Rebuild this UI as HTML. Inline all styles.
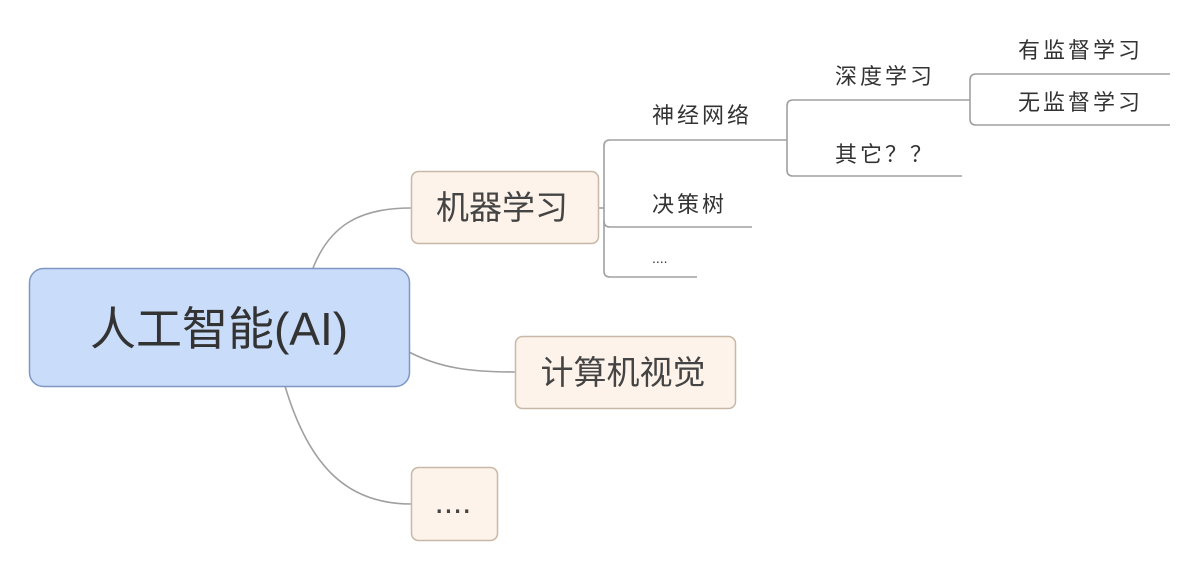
<!DOCTYPE html>
<html><head><meta charset="utf-8"><style>
html,body{margin:0;padding:0;background:#fff;width:1200px;height:570px;overflow:hidden;}
svg text{font-family:"Liberation Sans","Noto Sans CJK SC",sans-serif;fill:#333;}
</style></head><body>
<svg width="1200" height="570" xmlns="http://www.w3.org/2000/svg">
<g fill="none" stroke="#a0a0a0" stroke-width="1.6">
<path d="M313 268 C330 225 360 208 411 208"/>
<path d="M409 352 C440 368 470 372 515 372"/>
<path d="M285 386 C310 470 350 504 411 504"/>
<path d="M598 208 L604 208"/>
<path d="M752 227 L610 227 Q604 227 604 221 L604 146 Q604 140 610 140 L787 140"/>
<path d="M604 221 L604 271 Q604 277 610 277 L697 277"/>
<path d="M970 100 L793 100 Q787 100 787 106 L787 170 Q787 176 793 176 L962 176"/>
<path d="M1170 74 L976 74 Q970 74 970 80 L970 119 Q970 125 976 125 L1170 125"/>
</g>
<rect x="29.5" y="268.5" width="380" height="118" rx="14" fill="#c9dcf9" stroke="#7f97c2" stroke-width="1.5"/>
<text x="219" y="345" font-size="46" text-anchor="middle" fill="#444">人工智能(AI)</text>
<g fill="#fdf3ea" stroke="#c8b8a8" stroke-width="1.5">
<rect x="411.5" y="171.5" width="187" height="72" rx="7"/>
<rect x="515.5" y="336.5" width="220" height="72" rx="7"/>
<rect x="411.5" y="467.5" width="86" height="73" rx="7"/>
</g>
<g font-size="33" text-anchor="middle">
<text x="502" y="219" style="fill:#444">机器学习</text>
<text x="623" y="384" style="fill:#444">计算机视觉</text>
<text x="453" y="513" style="fill:#444">....</text>
</g>
<g font-size="22" letter-spacing="3">
<text x="652" y="123">神经网络</text>
<text x="652" y="212">决策树</text>
<text x="652" y="263" font-size="14" letter-spacing="0">....</text>
<text x="835" y="84">深度学习</text>
<text x="835" y="162">其它？？</text>
<text x="1018" y="58">有监督学习</text>
<text x="1018" y="110">无监督学习</text>
</g>
</svg>
</body></html>
